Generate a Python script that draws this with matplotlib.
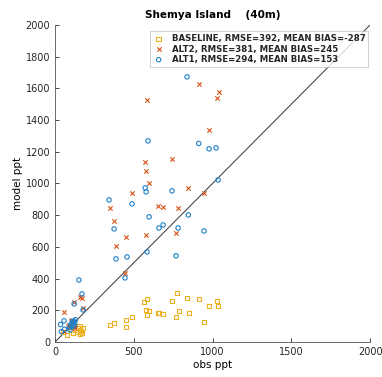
import matplotlib
matplotlib.use("Agg")
import matplotlib.pyplot as plt

# BASELINE (yellow squares)
base_obs = [775, 743, 838, 914, 1029, 978, 1035, 565, 584, 578, 597, 584, 660, 686, 787, 851, 768, 946,
            349, 375, 451, 451, 489, 654,
            95, 115, 140, 159, 171, 178, 165, 51, 76, 146, 130, 100, 120, 155]
base_mod = [309, 259, 278, 271, 259, 227, 227, 252, 271, 202, 196, 170, 183, 177, 196, 183, 158, 126,
            107, 120, 95, 139, 158, 183,
            95, 57, 63, 50, 57, 88, 70, 63, 44, 88, 75, 80, 110, 100]

# ALT2 (orange crosses)
alt2_obs = [914, 1041, 1029, 584, 978, 743, 572, 578, 597, 846, 489, 946, 654, 686, 349, 781, 375, 768,
            578, 451, 387, 444, 159, 171, 121, 178, 57,
            100, 110, 120, 90, 130, 105, 115, 80, 60]
alt2_mod = [1628, 1577, 1540, 1527, 1338, 1155, 1136, 1079, 1003, 972, 940, 940, 858, 852, 846, 846, 764, 688,
            675, 663, 606, 435, 284, 278, 250, 215, 186,
            130, 120, 100, 110, 90, 140, 125, 100, 70]

# ALT1 (blue circles)
alt1_obs = [838, 590, 912, 978, 1022, 1035, 572, 578, 743, 343, 489, 846, 597, 660, 686, 781, 375, 946,
            387, 457, 584, 768, 444, 152, 171, 121, 178, 57,
            110, 115, 100, 120, 90, 125, 105, 95, 120, 130, 35, 40, 60]
alt1_mod = [1672, 1268, 1252, 1218, 1224, 1022, 972, 947, 953, 896, 871, 801, 789, 719, 738, 719, 713, 700,
            524, 536, 568, 543, 404, 391, 303, 240, 202, 133,
            130, 120, 110, 100, 90, 115, 100, 75, 130, 140, 110, 65, 80]

labels = ["BASELINE, RMSE=392, MEAN BIAS=-287",
          "ALT2, RMSE=381, MEAN BIAS=245",
          "ALT1, RMSE=294, MEAN BIAS=153"]

plt.rcParams['font.family'] = 'DejaVu Sans'

fig = plt.figure(figsize=(3.82, 3.77), dpi=100)
ax = fig.add_axes([0.144, 0.093, 0.825, 0.841])

ax.plot([0, 2000], [0, 2000], color='#333333', linewidth=0.7, zorder=1)

ax.scatter(base_obs, base_mod, marker='s', s=10, facecolors='none', edgecolors='#EDB120',
           linewidths=0.8, label=labels[0], zorder=2)
ax.scatter(alt2_obs, alt2_mod, marker='x', s=10, color='#D95319',
           linewidths=0.8, label=labels[1], zorder=2)
ax.scatter(alt1_obs, alt1_mod, marker='o', s=10, facecolors='none', edgecolors='#1F80C8',
           linewidths=0.8, label=labels[2], zorder=2)

ax.set_xlim(0, 2000)
ax.set_ylim(0, 2000)
ax.set_xticks([0, 500, 1000, 1500, 2000])
ax.set_yticks(range(0, 2001, 200))
ax.tick_params(direction='in', length=3, width=0.6, labelsize=7, colors='#262626')
for s in ['top', 'right']:
    ax.spines[s].set_visible(False)
for s in ['left', 'bottom']:
    ax.spines[s].set_color('#555555')
    ax.spines[s].set_linewidth(0.6)

ax.set_xlabel("obs ppt", fontsize=7.5, labelpad=2)
ax.set_ylabel("model ppt", fontsize=7.5, labelpad=2)
ax.set_title("Shemya Island    (40m)", fontsize=7.5, fontweight='bold', pad=5)

leg = ax.legend(loc='upper right', fontsize=6.2, frameon=True, fancybox=False,
                edgecolor='#BBBBBB', borderpad=0.35, handletextpad=0.9, labelspacing=0.15,
                handlelength=1.2, borderaxespad=0.2, bbox_to_anchor=(1.0, 0.985))
leg.get_frame().set_linewidth(0.6)
for t in leg.get_texts():
    t.set_fontweight('bold')
    t.set_color('#262626')

fig.savefig("out.png", dpi=100)
